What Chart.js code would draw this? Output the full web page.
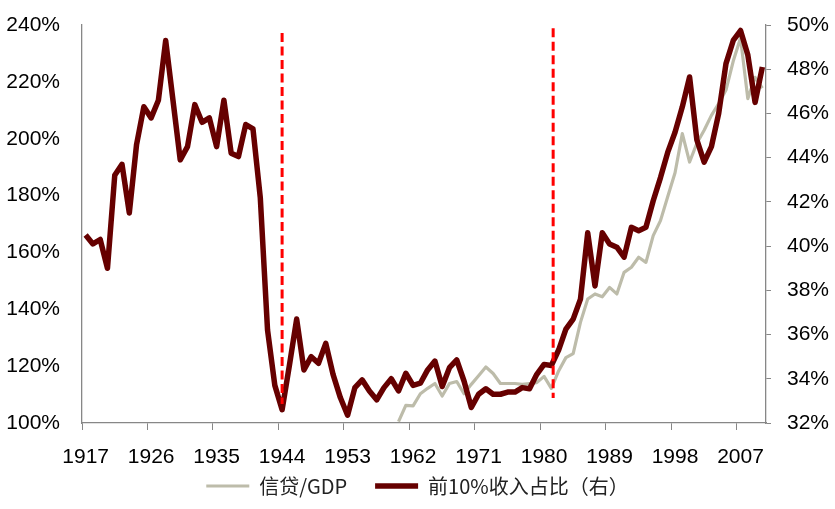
<!DOCTYPE html>
<html>
<head>
<meta charset="utf-8">
<script src="https://cdn.jsdelivr.net/npm/chart.js@4.4.1/dist/chart.umd.min.js"></script>
<style>
    body { margin: 0; background: #ffffff; }
    #contenedor { width: 835px; height: 509px; }
</style>
</head>
<body>
<div id="contenedor"><canvas id="lineChart"></canvas></div>
<script>
// Años del eje X (1917-2010)
var anos = [
    1917, 1918, 1919, 1920, 1921, 1922, 1923, 1924, 1925, 1926,
    1927, 1928, 1929, 1930, 1931, 1932, 1933, 1934, 1935, 1936,
    1937, 1938, 1939, 1940, 1941, 1942, 1943, 1944, 1945, 1946,
    1947, 1948, 1949, 1950, 1951, 1952, 1953, 1954, 1955, 1956,
    1957, 1958, 1959, 1960, 1961, 1962, 1963, 1964, 1965, 1966,
    1967, 1968, 1969, 1970, 1971, 1972, 1973, 1974, 1975, 1976,
    1977, 1978, 1979, 1980, 1981, 1982, 1983, 1984, 1985, 1986,
    1987, 1988, 1989, 1990, 1991, 1992, 1993, 1994, 1995, 1996,
    1997, 1998, 1999, 2000, 2001, 2002, 2003, 2004, 2005, 2006,
    2007, 2008, 2009, 2010
];

// 信贷/GDP (eje izquierdo, %)
var creditoPib = [
    null, null, null, null, null, null, null, null, null, null,
    null, null, null, null, null, null, null, null, null, null,
    null, null, null, null, null, null, null, null, null, null,
    null, null, null, null, null, null, null, null, null, null,
    null, null, null, 100.5, 106.2, 106.0, 110.3, 112.2, 113.9, 109.5,
    113.9, 114.6, 110.3, 113.6, 116.6, 119.7, 117.4, 113.9, 113.9, 113.9,
    113.6, 113.9, 114.2, 116.4, 112.2, 118.3, 123.0, 124.4, 135.4, 143.6,
    145.4, 144.4, 147.7, 145.4, 153.0, 154.8, 158.3, 156.5, 165.9, 171.2,
    179.7, 188.0, 201.8, 191.8, 198.4, 203.0, 208.2, 212.4, 217.1, 227.3,
    235.4, 214.1, 221.6, 217.8
];

// 前10%收入占比 (eje derecho, %)
var top10 = [
    40.5, 40.1, 40.3, 39.0, 43.2, 43.7, 41.5, 44.6, 46.3, 45.8,
    46.6, 49.3, 46.6, 43.9, 44.5, 46.4, 45.6, 45.8, 44.5, 46.6,
    44.2, 44.05, 45.5, 45.3, 42.2, 36.2, 33.7, 32.6, 34.6, 36.7,
    34.4, 35.0, 34.7, 35.6, 34.2, 33.15, 32.35, 33.6, 33.95, 33.45,
    33.05, 33.6, 34.0, 33.45, 34.25, 33.7, 33.8, 34.4, 34.8, 33.65,
    34.5, 34.85, 33.9, 32.7, 33.3, 33.55, 33.3, 33.3, 33.4, 33.4,
    33.6, 33.55, 34.2, 34.65, 34.6, 35.3, 36.25, 36.7, 37.6, 40.6,
    38.2, 40.6, 40.1, 39.95, 39.5, 40.85, 40.7, 40.85, 42.05, 43.1,
    44.25, 45.15, 46.3, 47.65, 44.8, 43.8, 44.5, 46.0, 48.25, 49.3,
    49.75, 48.65, 46.5, 48.1
];

// Líneas rojas discontinuas (año, extremo superior e inferior en el eje izquierdo)
var anosCorte = [1944, 1981.25];
var corteArriba = [237.2, 238.9];
var corteAbajo = [106.7, 108.8];

var nombres = ['信贷/GDP', '前10%收入占比（右）'];

document.addEventListener('DOMContentLoaded', function () {
    crearGrafica();
});

var lineasCorte = {
    id: 'lineasCorte',
    afterDatasetsDraw: function (chart) {
        var ejeX = chart.scales.x;
        var ejeY = chart.scales.y;
        var ctx = chart.ctx;
        ctx.save();
        ctx.strokeStyle = '#FF0000';
        ctx.lineWidth = 3;
        ctx.lineCap = 'butt';
        ctx.setLineDash([9, 4.5]);
        for (var i = 0; i < anosCorte.length; i++) {
            var px = ejeX.getPixelForValue(anosCorte[i] - anos[0]);
            ctx.beginPath();
            ctx.moveTo(px, ejeY.getPixelForValue(corteArriba[i]));
            ctx.lineTo(px, ejeY.getPixelForValue(corteAbajo[i]));
            ctx.stroke();
        }
        ctx.restore();
    }
};

function crearGrafica() {
    var gris = '#878787';
    var fuenteEjes = { family: '"Liberation Sans", Arial, sans-serif', size: 21 };
    // interlineado corto para que las etiquetas verticales no reserven margen extra
    var fuenteEjesY = { family: '"Liberation Sans", Arial, sans-serif', size: 21, lineHeight: 0.8 };

    var ctx = document.getElementById('lineChart').getContext('2d');

    var grafica = new Chart(ctx, {
        type: 'line',
        data: {
            labels: anos,
            datasets: [{
                label: nombres[0],
                data: creditoPib,
                yAxisID: 'y',
                borderColor: '#BDBCAA',
                backgroundColor: '#BDBCAA',
                borderWidth: 3.2,
                pointRadius: 0,
                tension: 0,
                borderJoinStyle: 'round',
                order: 2
            }, {
                label: nombres[1],
                data: top10,
                yAxisID: 'y1',
                borderColor: '#660000',
                backgroundColor: '#660000',
                borderWidth: 5.5,
                pointRadius: 0,
                tension: 0,
                borderJoinStyle: 'round',
                order: 1
            }]
        },
        options: {
            responsive: true,
            maintainAspectRatio: false,
            animation: false,
            layout: {
                padding: { top: 25, right: 0, bottom: 3, left: 0 }
            },
            plugins: {
                tooltip: { enabled: false },
                legend: {
                    position: 'bottom',
                    labels: {
                        usePointStyle: true,
                        pointStyle: 'line',
                        pointStyleWidth: 43,
                        padding: 8,
                        color: '#222222',
                        font: { family: '"Noto Sans CJK SC", sans-serif', size: 20 },
                        sort: function (a, b) {
                            return a.datasetIndex - b.datasetIndex;
                        },
                        filter: function (item) {
                            // separación entre las dos entradas de la leyenda
                            if (item.datasetIndex === 0) {
                                item.text = item.text + '\u3000';
                            }
                            return true;
                        }
                    }
                }
            },
            scales: {
                x: {
                    offset: true,
                    grid: {
                        offset: true,
                        drawOnChartArea: false,
                        drawTicks: true,
                        tickLength: 7,
                        color: function (c) {
                            return (c.index !== undefined && c.index % 9 === 0) ? gris : 'rgba(0,0,0,0)';
                        }
                    },
                    border: { display: true, color: gris, width: 1.3 },
                    ticks: {
                        autoSkip: false,
                        maxRotation: 0,
                        minRotation: 0,
                        padding: 15,
                        color: '#000000',
                        font: fuenteEjes,
                        callback: function (valor, indice) {
                            return indice % 9 === 0 ? String(anos[indice]) : '';
                        }
                    },
                    afterFit: function (eje) { eje.height = 45; }
                },
                y: {
                    position: 'left',
                    min: 100,
                    max: 240,
                    grid: {
                        drawOnChartArea: false,
                        drawTicks: true,
                        tickLength: 16,
                        color: 'rgba(0,0,0,0)'
                    },
                    border: { display: true, color: gris, width: 1.3 },
                    ticks: {
                        stepSize: 20,
                        padding: 6,
                        color: '#000000',
                        font: fuenteEjesY,
                        callback: function (v) { return v + '%'; }
                    },
                    afterFit: function (eje) { eje.width = 82; }
                },
                y1: {
                    position: 'right',
                    min: 32,
                    max: 50,
                    grid: {
                        drawOnChartArea: false,
                        drawTicks: true,
                        tickLength: 5,
                        color: gris
                    },
                    border: { display: true, color: gris, width: 1.3 },
                    ticks: {
                        stepSize: 2,
                        padding: 16,
                        color: '#000000',
                        font: fuenteEjesY,
                        callback: function (v) { return v + '%'; }
                    },
                    afterFit: function (eje) { eje.width = 69; }
                }
            }
        },
        plugins: [lineasCorte]
    });
}
</script>
</body>
</html>
